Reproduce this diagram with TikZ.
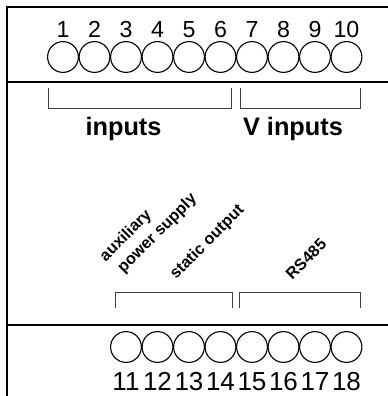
\documentclass[tikz,border=0pt]{standalone}
\usepackage{fontspec}
\setmainfont{Liberation Sans}

\begin{document}
\begin{tikzpicture}[x=0.025cm, y=-0.025cm,
        frame/.style={line width=1.4pt},
        term/.style={draw, circle, inner sep=0pt, minimum size=0.77cm, line width=0.8pt},
        brace/.style={draw=black!75, line width=0.7pt},
        topnum/.style={anchor=base, inner sep=0pt, font=\fontsize{16.5}{18}\selectfont},
        botnum/.style={anchor=base, inner sep=0pt, font=\fontsize{18.5}{20}\selectfont},
        group/.style={anchor=base, inner sep=0pt, font=\fontsize{18}{20}\selectfont\bfseries},
        slant/.style={rotate=45, inner sep=0pt, font=\fontsize{11.5}{12}\selectfont\bfseries}]
        \useasboundingbox (0, 0) rectangle (388, 396);

        % housing
        \draw[frame] (388, 7) -- (7, 7) -- (7, 396);
        \draw[frame] (7, 82) -- (388, 82);
        \draw[frame] (7, 325) -- (388, 325);

        % upper terminals
        \foreach \i in {1,...,10} {
            \node[term] (t\i) at ({63 + 31.5*(\i-1)}, 57) {};
            \node[topnum] (n\i) at ({63 + 31.5*(\i-1)}, 37.5) {\i};
        }

        % lower terminals
        \foreach \i in {11,...,18} {
            \node[term] (t\i) at ({126 + 31.5*(\i-11)}, 347) {};
            \node[botnum] (n\i) at ({126 + 31.5*(\i-11)}, 390) {\i};
        }

        % groups of the upper terminals
        \draw[brace] (48, 88) -- (48, 108) -- (231, 108) -- (231, 88);
        \draw[brace] (240, 88) -- (240, 108) -- (360, 108) -- (360, 88);
        \node[group] (inp) at (123.5, 135) {inputs};
        \node[group] (vinp) at (293, 135) {V inputs};

        % groups of the lower terminals
        \draw[brace] (115, 308) -- (115, 292) -- (232, 292) -- (232, 308);
        \draw[brace] (239, 308) -- (239, 292) -- (360, 292) -- (360, 308);
        \node[slant] (aux) at (126, 236) {auxiliary};
        \node[slant] (psu) at (157.5, 233.5) {power supply};
        \node[slant] (sout) at (207.5, 242.5) {static output};
        \node[slant] (rs) at (306, 259) {RS485};
    \end{tikzpicture}
\end{document}
